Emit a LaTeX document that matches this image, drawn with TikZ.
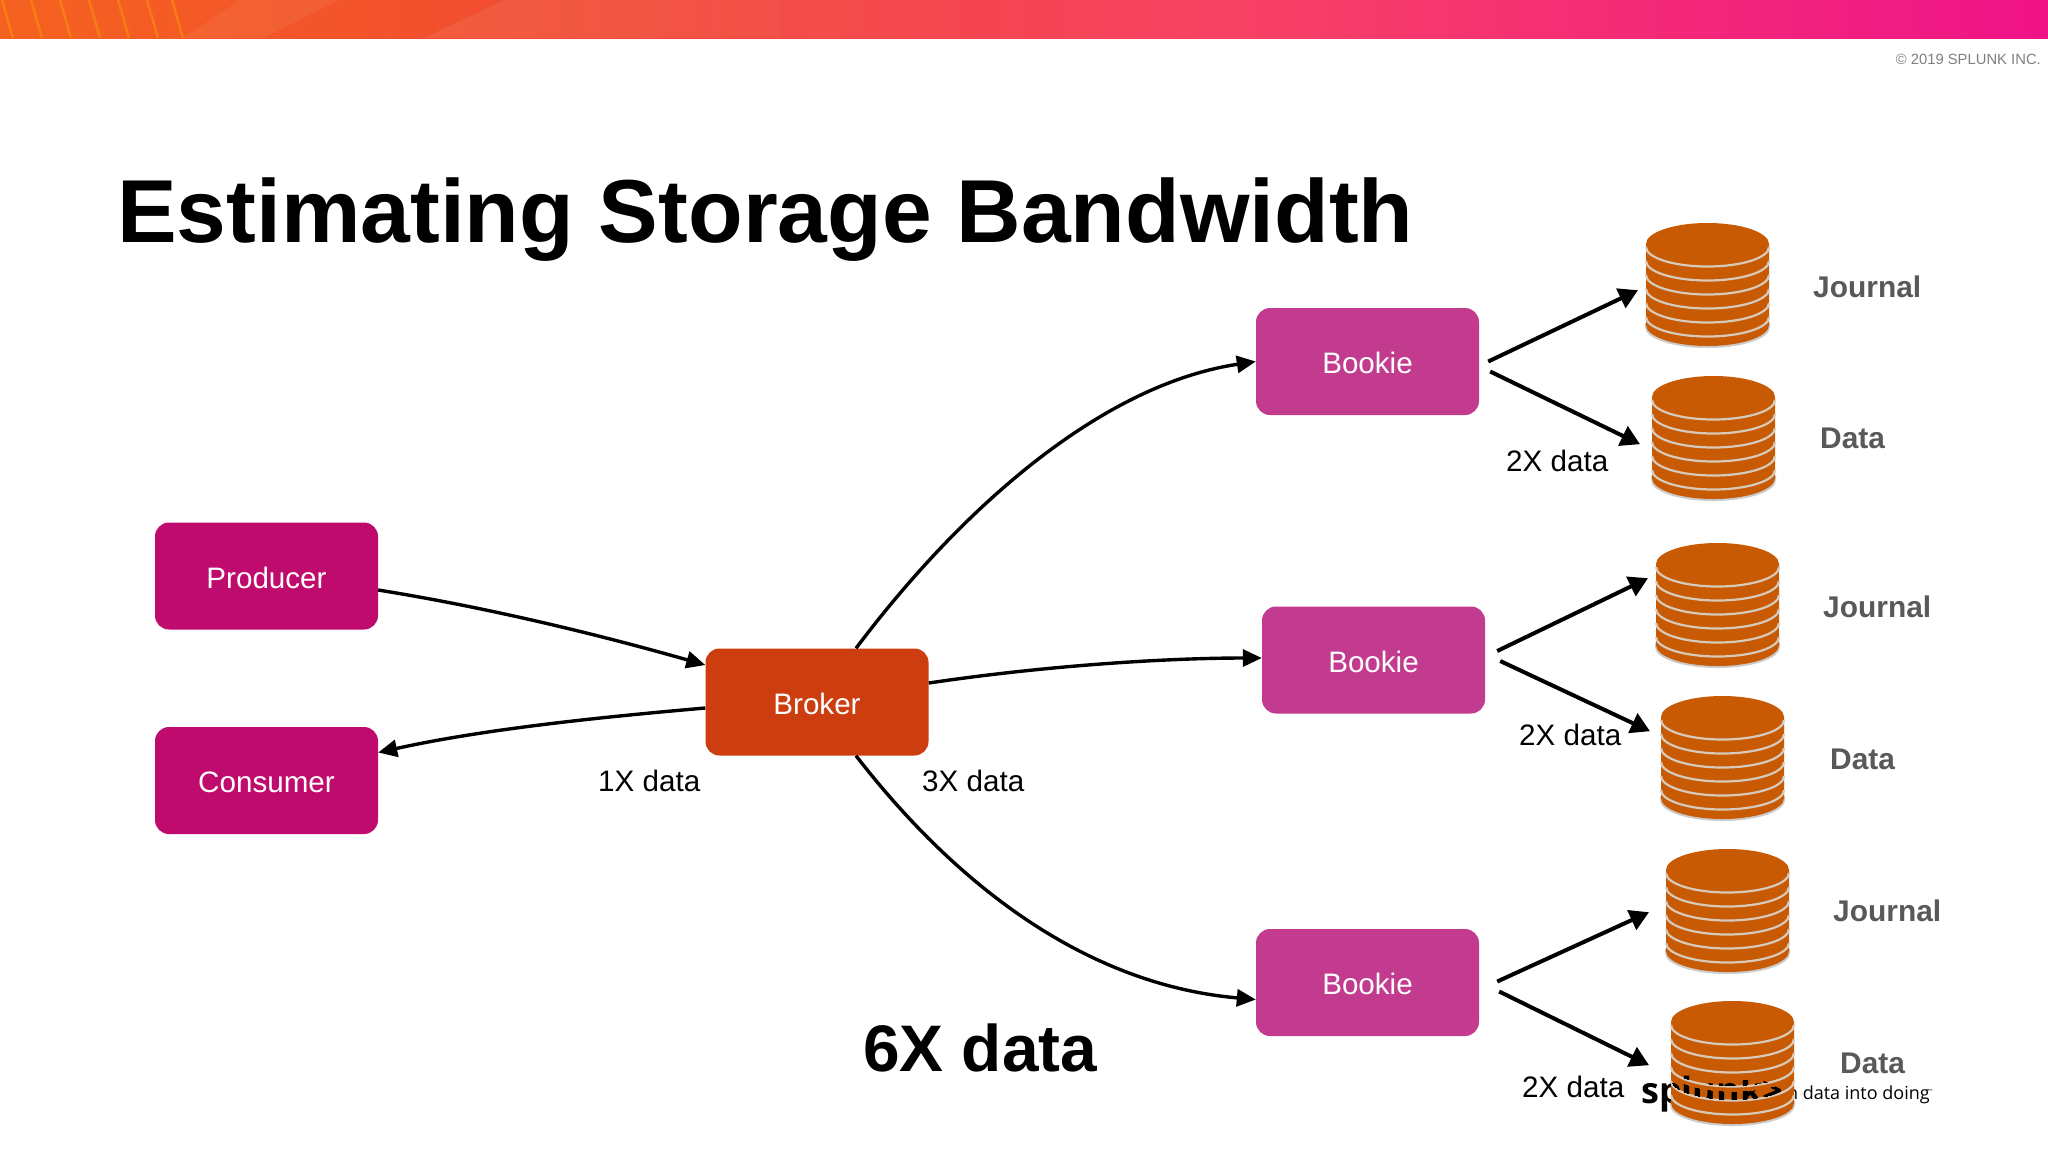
\documentclass[tikz,border=0pt]{standalone}
\usepackage{fontspec}
\setmainfont{Liberation Sans}
\newfontfamily\logofont{Open Sans}
\usetikzlibrary{arrows.meta}
\definecolor{prod}{HTML}{BF0A6E}
\definecolor{book}{HTML}{C23B8E}
\definecolor{brok}{HTML}{CC3E10}
\definecolor{cyl}{HTML}{C85A04}
\definecolor{rib}{HTML}{D8CABB}
\definecolor{lab}{HTML}{58595B}
\definecolor{g0}{HTML}{F5621F}
\definecolor{g1}{HTML}{F14A32}
\definecolor{g2}{HTML}{F84264}
\definecolor{g3}{HTML}{F01A84}
\definecolor{g4}{HTML}{F0008C}
\pgfdeclarehorizontalshading{topbar}{100bp}{color(0bp)=(g0);color(25bp)=(g0);color(39bp)=(g1);color(55bp)=(g2);color(72bp)=(g3);color(82bp)=(g4);color(100bp)=(g4)}
\tikzset{
 x=1pt,y=-1pt,
 box/.style={rounded corners=14pt,minimum width=223pt,minimum height=107pt,text=white,text height=24pt,text depth=0pt,font=\fontsize{29.6}{32}\selectfont,inner sep=0pt},
 conn/.style={line width=3.4pt,-{Triangle[length=19pt,width=17pt]}},
 feed/.style={line width=4pt,-{Triangle[length=19pt,width=21pt]}},
 qty/.style={anchor=base west,inner sep=0pt,font=\fontsize{29.6}{32}\selectfont},
 store/.style={anchor=base west,inner sep=0pt,text=lab,font=\fontsize{29.9}{32}\selectfont\bfseries},
 cylslot/.style={minimum width=123pt,minimum height=124pt,inner sep=0pt,anchor=north west},
 logotext/.style={anchor=base west,inner sep=0pt,font=\logofont\fontsize{36}{40}\selectfont\bfseries}
}
\newcommand{\drum}[2]{%
 \begin{scope}[shift={(#1,#2)}]
  \fill[black!45,opacity=.45] (-1,100) -- (-1,104) arc[x radius=62.5,y radius=21,start angle=180,end angle=0] -- (124,100) -- cycle;
  \fill[cyl] (0,21) -- (0,102) arc[x radius=61.5,y radius=21,start angle=180,end angle=0] -- (123,21) arc[x radius=61.5,y radius=21,start angle=0,end angle=-180] -- cycle;
  \foreach \k in {0,1,2,3,4,5}{
   \draw[rib,line width=2.2pt] (0,{24+\k*14}) arc[x radius=61.5,y radius=19.5,start angle=180,end angle=0];
  }
 \end{scope}}
\begin{document}
\begin{tikzpicture}
\useasboundingbox (0,0) rectangle (2048,1152);
\fill[white] (0,0) rectangle (2048,1152);
% top band
\shade[shading=topbar] (0,0) rectangle (2048,38);
\begin{scope}
 \clip (0,0) rectangle (2048,38);
 \fill[white,opacity=.06] (183,38) -- (240,0) -- (339,0) -- (263,38) -- cycle;
 \foreach \e in {540,600,660,720,780,840,900,960}
  \fill[white,opacity=.012] (424,38) -- (504,0) -- (\e,0) -- (\e,38) -- cycle;
 \foreach \a in {-16,13,42,71,100,129,158,183}
  \draw[orange!70!yellow,opacity=.4,line width=2.5pt] (\a,38) -- ({\a-11},0);
\end{scope}
\node[anchor=base east,inner sep=0pt,text=black!50,font=\fontsize{14.8}{18}\selectfont] (copyr) at (2041,64) {© 2019 SPLUNK INC.};
\node[anchor=base west,inner sep=0pt,font=\fontsize{89.4}{100}\selectfont\bfseries] (title) at (117,242) {Estimating Storage Bandwidth};
% logo lies under the last cylinder
\node[logotext] (logo) at (1641,1103) {splunk>};
\node[anchor=base east,inner sep=0pt,font=\logofont\fontsize{18}{20}\selectfont] (tag) at (1933,1099) {turn data into doing\raisebox{7pt}{\fontsize{4}{4}\selectfont ™}};
% boxes
\node[box,fill=prod] (producer) at (266.5,576) {Producer};
\node[box,fill=prod] (consumer) at (266.5,780.5) {Consumer};
\node[box,fill=brok] (broker) at (817,702) {Broker};
\node[box,fill=book] (b1) at (1367.5,361.5) {Bookie};
\node[box,fill=book] (b2) at (1373.5,660) {Bookie};
\node[box,fill=book] (b3) at (1367.5,982.5) {Bookie};
% cylinders
\drum{1646}{223}\node[cylslot] (c1) at (1646,223) {};
\drum{1652}{376}\node[cylslot] (c2) at (1652,376) {};
\drum{1656}{543}\node[cylslot] (c3) at (1656,543) {};
\drum{1661}{696}\node[cylslot] (c4) at (1661,696) {};
\drum{1666}{849}\node[cylslot] (c5) at (1666,849) {};
\drum{1671}{1001}\node[cylslot] (c6) at (1671,1001) {};
% logo fragments showing through the last cylinder
\begin{scope}
 \clip (1671,1066) arc[x radius=61.5,y radius=19.5,start angle=180,end angle=0] -- (1794,1061) arc[x radius=61.5,y radius=19.5,start angle=0,end angle=180] -- cycle
       (1671,1080) arc[x radius=61.5,y radius=19.5,start angle=180,end angle=0] -- (1794,1072) arc[x radius=61.5,y radius=19.5,start angle=0,end angle=180] -- cycle;
 \node[logotext] at (1641,1103) {splunk>};
\end{scope}
% store labels
\node[store] (j1) at (1813,297) {Journal};
\node[store] (d1) at (1820,448) {Data};
\node[store] (j2) at (1823,617) {Journal};
\node[store] (d2) at (1830,769) {Data};
\node[store] (j3) at (1833,921) {Journal};
\node[store] (d3) at (1840,1073) {Data};
% quantities
\node[qty] (q1) at (598,791) {1X data};
\node[qty] (q3) at (922,791) {3X data};
\node[qty] (r1) at (1506,471) {2X data};
\node[qty] (r2) at (1519,745) {2X data};
\node[qty] (r3) at (1522,1097) {2X data};
\node[anchor=base west,inner sep=0pt,font=\fontsize{65.8}{70}\selectfont\bfseries] (six) at (863,1071) {6X data};
% connectors
\draw[conn] ([shift={(0,14)}]producer.east) .. controls (490,608) and (600,635) .. ([shift={(0,-37)}]broker.west);
\draw[conn] ([shift={(0,6)}]broker.west) .. controls (590,718) and (480,730) .. ([shift={(0,-28)}]consumer.east);
\draw[conn] ([shift={(39,0)}]broker.north) .. controls (960,510) and (1100,385) .. (b1.west);
\draw[conn] ([shift={(0,-19)}]broker.east) .. controls (1050,665) and (1170,658) .. ([shift={(0,-2)}]b2.west);
\draw[conn] ([shift={(39,0)}]broker.south) .. controls (960,890) and (1090,985) .. ([shift={(0,17)}]b3.west);
\draw[feed] ([shift={(9,0)}]b1.east) -- ([shift={(-8,5)}]c1.west);
\draw[feed] ([shift={(11,10)}]b1.east) -- ([shift={(-12,6)}]c2.west);
\draw[feed] ([shift={(12,-9)}]b2.east) -- ([shift={(-8,-27)}]c3.west);
\draw[feed] ([shift={(15,1)}]b2.east) -- ([shift={(-11,-27)}]c4.west);
\draw[feed] ([shift={(18,-1)}]b3.east) -- ([shift={(-17,1)}]c5.west);
\draw[feed] ([shift={(20,9)}]b3.east) -- ([shift={(-22,2)}]c6.west);
\end{tikzpicture}
\end{document}
